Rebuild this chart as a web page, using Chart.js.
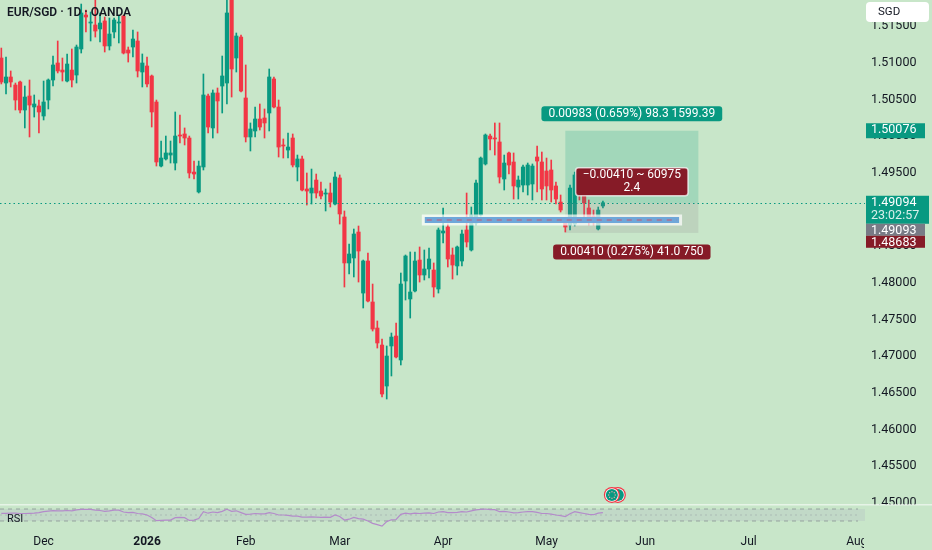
<!DOCTYPE html>
<html lang="en">
<head>
<meta charset="UTF-8">
<title>EUR/SGD · 1D · OANDA</title>
<script src="https://cdn.jsdelivr.net/npm/chart.js@4.4.1/dist/chart.umd.min.js"></script>
<style>
  html, body { margin: 0; padding: 0; background: #c8e6c9; }
  .wrap { position: relative; width: 932px; height: 550px; }
</style>
</head>
<body>
<div class="wrap"><canvas id="chart" width="932" height="550"></canvas></div>
<script>
// daily candles, 18 Nov 2025 .. 19 May 2026 (index 0 = first visible bar)
const opens = [
  1.51068, 1.50727, 1.50809, 1.50700, 1.50741, 1.50359, 1.50550, 1.50400, 1.50414, 1.50277,
  1.50495, 1.50768, 1.51000, 1.50904, 1.50754, 1.50904, 1.50836, 1.51191, 1.51654, 1.51545,
  1.51518, 1.51464, 1.51573, 1.51232, 1.51423, 1.51545, 1.51641, 1.51177, 1.51218, 1.51300,
  1.50877, 1.50959, 1.50823, 1.50468, 1.49595, 1.49691, 1.49745, 1.49636, 1.50018, 1.50032,
  1.49977, 1.49513, 1.49241, 1.49582, 1.50550, 1.50114, 1.50591, 1.50686, 1.50727, 1.51900,
  1.51068, 1.51354, 1.50523, 1.49991, 1.50073, 1.50236, 1.50250, 1.50318, 1.50782, 1.50400,
  1.49882, 1.49813, 1.49977, 1.49582, 1.49691, 1.49282, 1.49227, 1.49404, 1.49254, 1.49213,
  1.49227, 1.49077, 1.49432, 1.48900, 1.48273, 1.48341, 1.48695, 1.47863, 1.48300, 1.47741,
  1.47386, 1.47154, 1.46595, 1.47141, 1.47277, 1.46950, 1.48027, 1.47782, 1.47891, 1.48313,
  1.48109, 1.48191, 1.48177, 1.47918, 1.48682, 1.48763, 1.48382, 1.48232, 1.48300, 1.48723,
  1.48450, 1.48818, 1.48927, 1.49623, 1.50004, 1.49977, 1.49923, 1.49418, 1.49773, 1.49650,
  1.49309, 1.49336, 1.49336, 1.49350, 1.49718, 1.49650, 1.49527, 1.49541, 1.49323, 1.49104,
  1.48818, 1.48791, 1.48804, 1.49432, 1.49282, 1.49023, 1.48913, 1.48736, 1.49050
];
const highs = [
  1.51204, 1.51082, 1.50891, 1.50727, 1.50754, 1.50686, 1.50768, 1.50564, 1.50495, 1.50754,
  1.50782, 1.51095, 1.51300, 1.51068, 1.51123, 1.51191, 1.51245, 1.51804, 1.51723, 1.51695,
  1.51886, 1.51682, 1.51627, 1.51614, 1.51614, 1.51654, 1.51654, 1.51218, 1.51450, 1.51423,
  1.51123, 1.51082, 1.50836, 1.50495, 1.49936, 1.50004, 1.49936, 1.50332, 1.50291, 1.50114,
  1.50004, 1.49663, 1.49663, 1.50850, 1.50577, 1.50632, 1.50659, 1.51095, 1.51900, 1.51995,
  1.51409, 1.51382, 1.50973, 1.50182, 1.50400, 1.50441, 1.50373, 1.50918, 1.50809, 1.50495,
  1.49964, 1.50045, 1.50032, 1.49745, 1.49732, 1.49500, 1.49554, 1.49486, 1.49377, 1.49282,
  1.49363, 1.49513, 1.49473, 1.48982, 1.48532, 1.48736, 1.48777, 1.48313, 1.48409, 1.47986,
  1.47482, 1.47236, 1.47141, 1.47318, 1.47454, 1.48136, 1.48382, 1.48423, 1.48423, 1.48491,
  1.48450, 1.48477, 1.48273, 1.48750, 1.49023, 1.48804, 1.48477, 1.48504, 1.48723, 1.49227,
  1.49036, 1.49404, 1.49718, 1.50032, 1.50032, 1.50182, 1.50182, 1.49745, 1.49786, 1.49773,
  1.49459, 1.49609, 1.49636, 1.49623, 1.49868, 1.49786, 1.49704, 1.49677, 1.49377, 1.49200,
  1.48886, 1.49336, 1.49513, 1.49500, 1.49363, 1.49132, 1.48995, 1.49036, 1.49118
];
const lows = [
  1.50714, 1.50577, 1.50673, 1.50359, 1.50318, 1.50114, 1.49991, 1.50263, 1.50045, 1.50223,
  1.50373, 1.50686, 1.50864, 1.50754, 1.50741, 1.50673, 1.50727, 1.51136, 1.51423, 1.51300,
  1.51354, 1.51286, 1.51150, 1.51177, 1.51341, 1.51273, 1.51123, 1.51013, 1.51082, 1.50809,
  1.50673, 1.50673, 1.50127, 1.49595, 1.49582, 1.49677, 1.49636, 1.49541, 1.49909, 1.49882,
  1.49432, 1.49418, 1.49227, 1.49541, 1.50045, 1.49977, 1.50045, 1.50318, 1.50441, 1.50536,
  1.50877, 1.50604, 1.49923, 1.49800, 1.49991, 1.50086, 1.49977, 1.50073, 1.50386, 1.49718,
  1.49704, 1.49704, 1.49582, 1.49391, 1.49254, 1.49063, 1.49077, 1.49159, 1.49145, 1.48982,
  1.49036, 1.49063, 1.48804, 1.47945, 1.48123, 1.48082, 1.48013, 1.47659, 1.47741, 1.47345,
  1.47113, 1.46445, 1.46418, 1.46732, 1.46977, 1.46882, 1.47768, 1.47522, 1.47877, 1.48013,
  1.48041, 1.48068, 1.47809, 1.47863, 1.48545, 1.48218, 1.48054, 1.48109, 1.48232, 1.48491,
  1.48436, 1.48791, 1.48913, 1.49609, 1.49813, 1.49745, 1.49363, 1.49268, 1.49486, 1.49145,
  1.49145, 1.49241, 1.49200, 1.49132, 1.49241, 1.49132, 1.49132, 1.49104, 1.49077, 1.48968,
  1.48695, 1.48723, 1.48777, 1.49132, 1.48886, 1.48791, 1.48791, 1.48723, 1.49023
];
const closes = [
  1.50741, 1.50809, 1.50741, 1.50495, 1.50359, 1.50536, 1.50427, 1.50441, 1.50332, 1.50468,
  1.50768, 1.50973, 1.50891, 1.50877, 1.50986, 1.50768, 1.51218, 1.51682, 1.51627, 1.51559,
  1.51436, 1.51545, 1.51232, 1.51395, 1.51586, 1.51559, 1.51136, 1.51136, 1.51327, 1.50891,
  1.51000, 1.50714, 1.50332, 1.49650, 1.49704, 1.49773, 1.49773, 1.50004, 1.50004, 1.49977,
  1.49500, 1.49486, 1.49595, 1.50564, 1.50127, 1.50591, 1.50482, 1.50823, 1.51682, 1.50918,
  1.51368, 1.50618, 1.49991, 1.50100, 1.50236, 1.50127, 1.50182, 1.50809, 1.50400, 1.49854,
  1.49868, 1.49854, 1.49609, 1.49691, 1.49268, 1.49254, 1.49295, 1.49227, 1.49186, 1.49227,
  1.49104, 1.49445, 1.48941, 1.48273, 1.48395, 1.48668, 1.48436, 1.48300, 1.47754, 1.47372,
  1.47182, 1.46486, 1.47004, 1.47263, 1.46991, 1.47986, 1.48368, 1.47877, 1.48300, 1.48109,
  1.48191, 1.48327, 1.47945, 1.48723, 1.48709, 1.48327, 1.48245, 1.48491, 1.48668, 1.48559,
  1.48927, 1.49363, 1.49704, 1.50018, 1.49964, 1.49964, 1.49445, 1.49636, 1.49609, 1.49323,
  1.49404, 1.49582, 1.49609, 1.49595, 1.49663, 1.49282, 1.49323, 1.49268, 1.49145, 1.48995,
  1.48763, 1.49295, 1.49473, 1.49268, 1.49091, 1.48873, 1.48859, 1.48995, 1.49094
];
const rsi = [
  55.7, 55.7, 56, 56, 55, 55, 55.5, 56, 58, 61,
  63, 64.5, 64, 64, 65, 64, 67, 69, 69, 68.5,
  66, 65, 62, 64, 66.5, 66, 60, 58, 59, 55,
  54, 50, 42, 31, 32, 33, 33, 41, 42, 41,
  32, 33, 38, 61, 56, 60, 58, 62, 69, 62,
  64, 58, 52, 53, 55, 54, 54, 58, 55, 50,
  50, 49, 46, 46, 43, 43, 44, 43, 42, 43,
  42, 50, 45, 33, 36, 42, 38, 36, 30, 22,
  18, 13, 28, 34, 35, 52, 56, 54, 56, 55,
  56, 57, 55, 60, 61, 58, 58, 59, 61, 60,
  64, 67, 69, 70, 68, 68, 61, 62, 60, 57,
  58, 60, 61, 61, 59, 55, 55, 53, 50, 48,
  45, 54, 61, 58, 55, 52, 51, 56, 58
];

// axis ticks
const monthTickIdx = [9, 31, 52, 72, 94, 116, 137, 159, 182];
const monthTickLabels = ['Dec', '2026', 'Feb', 'Mar', 'Apr', 'May', 'Jun', 'Jul', 'Aug'];
const priceTicks = [1.450, 1.455, 1.460, 1.465, 1.470, 1.475, 1.480, 1.485, 1.490, 1.495, 1.500, 1.505, 1.510, 1.515];
const rsiLevels = [70, 50, 30];
const rsiPaneTop = 84;

// drawings on the chart
const lastPrice = 1.49094;
const countdown = '23:02:57';
const entryPrice = 1.49093, targetPrice = 1.50076, stopPrice = 1.48683;
const positionRange = [120, 148.3];
const targetText = '0.00983 (0.659%) 98.3 1599.39';
const riskText = ['\u22120.00410 ~ 60975', '2.4'];
const stopText = '0.00410 (0.275%) 41.0 750';
const bandRange = [90.1, 144.2];
const bandPrices = [1.48818, 1.48900];
const eventIdx = 129.9, eventPrice = 1.4511;

const UP = '#089981', DOWN = '#f23645', BG = '#c8e6c9', TXT = '#131722';
const FONT = 'Roboto, "Open Sans", sans-serif';
const candleColors = opens.map((o, i) => closes[i] >= o ? UP : DOWN);

function chip(ctx, cx, cy, lines, fill, border) {
  ctx.font = '12px ' + FONT;
  const w = Math.max(...lines.map(t => ctx.measureText(t).width)) + 14;
  const h = lines.length * 13 + 2;
  ctx.beginPath();
  ctx.roundRect(cx - w / 2, cy - h / 2, w, h, 3);
  ctx.fillStyle = fill;
  ctx.fill();
  if (border) { ctx.strokeStyle = border; ctx.lineWidth = 1.5; ctx.stroke(); }
  ctx.fillStyle = '#ffffff';
  ctx.textAlign = 'center';
  ctx.textBaseline = 'middle';
  lines.forEach((t, k) => ctx.fillText(t, cx, cy - h / 2 + 7.5 + k * 13));
}

function axisTag(ctx, yTop, h, fill, lines, right) {
  ctx.fillStyle = fill;
  ctx.fillRect(866, yTop, (right || 925) - 866, h);
  ctx.font = '12.5px ' + FONT;
  ctx.textAlign = 'left';
  ctx.textBaseline = 'middle';
  lines.forEach((t, k) => {
    ctx.fillStyle = k ? 'rgba(255,255,255,0.85)' : '#ffffff';
    ctx.fillText(t, 871, yTop + 7 + k * 13);
  });
}

const tvOverlay = {
  id: 'tvOverlay',
  beforeDatasetsDraw(chart) {
    const { ctx, chartArea: a, scales } = chart;
    const r = scales.yRsi;
    const y70 = r.getPixelForValue(rsiLevels[0]);
    const y50 = r.getPixelForValue(rsiLevels[1]);
    const y30 = r.getPixelForValue(rsiLevels[2]);
    ctx.save();
    ctx.fillStyle = 'rgba(126,87,194,0.09)';
    ctx.fillRect(a.left, y70, a.right - a.left, y30 - y70);
    ctx.lineWidth = 1;
    ctx.strokeStyle = 'rgba(120,123,134,0.6)';
    ctx.setLineDash([4, 4]);
    [y70, y30].forEach(v => {
      ctx.beginPath(); ctx.moveTo(a.left, v); ctx.lineTo(a.right - 7, v); ctx.stroke();
    });
    ctx.strokeStyle = 'rgba(120,123,134,0.3)';
    ctx.setLineDash([2, 3]);
    ctx.beginPath(); ctx.moveTo(a.left, y50); ctx.lineTo(a.right - 7, y50); ctx.stroke();
    ctx.restore();
  },
  afterDatasetsDraw(chart) {
    const { ctx, chartArea: a, scales: { x, y } } = chart;
    ctx.save();
    // long position zones
    const x0 = x.getPixelForValue(positionRange[0]), x1 = x.getPixelForValue(positionRange[1]);
    const yT = y.getPixelForValue(targetPrice), yE = y.getPixelForValue(entryPrice), yS = y.getPixelForValue(stopPrice);
    ctx.fillStyle = 'rgba(8,153,129,0.2)';
    ctx.fillRect(x0, yT, x1 - x0, yE - yT);
    ctx.fillStyle = 'rgba(140,130,140,0.18)';
    ctx.fillRect(x0, yE, x1 - x0, yS - yE);
    // horizontal zone band
    const bx0 = x.getPixelForValue(bandRange[0]), bx1 = x.getPixelForValue(bandRange[1]);
    const by0 = y.getPixelForValue(bandPrices[1]), by1 = y.getPixelForValue(bandPrices[0]);
    ctx.fillStyle = 'rgba(255,255,255,0.7)';
    ctx.fillRect(bx0 - 3, by0 - 2.5, bx1 - bx0 + 6, by1 - by0 + 5);
    ctx.fillStyle = '#6fa7d9';
    ctx.fillRect(bx0, by0, bx1 - bx0, by1 - by0);
    ctx.strokeStyle = 'rgba(242,54,69,0.75)';
    ctx.lineWidth = 1;
    ctx.setLineDash([5, 5]);
    ctx.beginPath(); ctx.moveTo(bx0 + 2, (by0 + by1) / 2); ctx.lineTo(bx1 - 2, (by0 + by1) / 2); ctx.stroke();
    // last price line
    const yL = Math.round(y.getPixelForValue(lastPrice)) + 0.5;
    ctx.strokeStyle = UP;
    ctx.lineWidth = 1.2;
    ctx.setLineDash([1.5, 3]);
    ctx.beginPath(); ctx.moveTo(a.left, yL); ctx.lineTo(a.right, yL); ctx.stroke();
    ctx.restore();
  },
  afterDraw(chart) {
    const { ctx, chartArea: a, scales: { x, y, yRsi } } = chart;
    ctx.save();
    const sep = yRsi.getPixelForValue(rsiPaneTop);
    // price scale is cut at the indicator pane, month axis is cut at the price scale
    ctx.fillStyle = BG;
    ctx.fillRect(a.right, sep, chart.width - a.right, a.bottom - sep);
    ctx.fillRect(a.right - 1, a.bottom, chart.width - a.right + 1, chart.height - a.bottom);
    ctx.strokeStyle = 'rgba(255,255,255,0.55)';
    ctx.lineWidth = 1.5;
    ctx.beginPath(); ctx.moveTo(0, sep); ctx.lineTo(chart.width, sep); ctx.stroke();

    // position labels
    const cx = (x.getPixelForValue(positionRange[0]) + x.getPixelForValue(positionRange[1])) / 2;
    chip(ctx, cx, y.getPixelForValue(targetPrice) - 17, [targetText], UP);
    chip(ctx, cx, y.getPixelForValue(entryPrice) - 21, riskText, '#861b27', 'rgba(255,255,255,0.7)');
    chip(ctx, cx, y.getPixelForValue(stopPrice) + 19, [stopText], '#861b27');

    // price scale tags
    axisTag(ctx, y.getPixelForValue(targetPrice) - 7.5, 15, UP, [targetPrice.toFixed(5)]);
    const yLast = y.getPixelForValue(lastPrice) - 7;
    axisTag(ctx, yLast, 28, UP, [lastPrice.toFixed(5), countdown], 929);
    axisTag(ctx, yLast + 28, 12, '#787b86', [entryPrice.toFixed(5)]);
    axisTag(ctx, yLast + 40, 12, '#861b27', [stopPrice.toFixed(5)]);

    // currency button
    ctx.beginPath();
    ctx.roundRect(866, 2, 63, 20, 4);
    ctx.fillStyle = '#ffffff';
    ctx.fill();
    ctx.fillStyle = TXT;
    ctx.font = '11.5px ' + FONT;
    ctx.textAlign = 'left';
    ctx.textBaseline = 'middle';
    ctx.fillText('SGD', 878, 12.5);

    // title and pane label
    ctx.font = '600 12px ' + FONT;
    ctx.fillStyle = TXT;
    ctx.fillText('EUR/SGD \u00b7 1D \u00b7 OANDA', 7, 13);
    ctx.font = '11px ' + FONT;
    ctx.fillText('RSI', 7, 519);

    // economic event marker
    const ex = x.getPixelForValue(eventIdx), ey = y.getPixelForValue(eventPrice);
    [ex + 6, ex].forEach(cxm => {
      ctx.fillStyle = DOWN;
      ctx.beginPath(); ctx.arc(cxm, ey, 8, 0, Math.PI * 2); ctx.fill();
      ctx.fillStyle = '#ffffff';
      ctx.beginPath(); ctx.arc(cxm, ey, 6.8, 0, Math.PI * 2); ctx.fill();
      ctx.fillStyle = UP;
      ctx.beginPath(); ctx.arc(cxm, ey, 6, 0, Math.PI * 2); ctx.fill();
    });
    ctx.fillStyle = '#f0a8a8';
    for (let k = 0; k < 8; k++) {
      const t = k * Math.PI / 4;
      ctx.fillRect(ex + Math.cos(t) * 3.3 - 0.5, ey + Math.sin(t) * 3.3 - 0.5, 1.2, 1.2);
    }
    ctx.restore();
  }
};

new Chart(document.getElementById('chart'), {
  type: 'bar',
  data: {
    datasets: [
      {
        label: 'wicks',
        data: highs.map((h, i) => ({ x: i, y: [lows[i], h] })),
        backgroundColor: candleColors,
        barThickness: 1,
        grouped: false,
        order: 2
      },
      {
        label: 'bodies',
        data: opens.map((o, i) => ({ x: i, y: [o, closes[i]] })),
        backgroundColor: candleColors,
        barThickness: 3.5,
        minBarLength: 1,
        grouped: false,
        order: 1
      },
      {
        type: 'line',
        label: 'RSI',
        yAxisID: 'yRsi',
        data: rsi.map((v, i) => ({ x: i, y: v })),
        borderColor: '#b48bca',
        borderWidth: 1.2,
        pointRadius: 0,
        tension: 0,
        order: 0
      }
    ]
  },
  options: {
    responsive: false,
    animation: false,
    layout: { padding: 0 },
    plugins: { legend: { display: false }, tooltip: { enabled: false } },
    scales: {
      x: {
        type: 'linear',
        min: -0.28,
        max: 183.76,
        offset: false,
        grid: { display: false, drawTicks: false },
        border: { display: false },
        afterBuildTicks: s => { s.ticks = monthTickIdx.map(v => ({ value: v })); },
        afterFit: s => { s.height = 22; s.paddingLeft = 0; s.paddingRight = 0; },
        ticks: {
          autoSkip: false,
          maxRotation: 0,
          padding: 7,
          color: TXT,
          font: c => ({ family: FONT, size: 12, weight: c.tick && c.tick.value === 31 ? 'bold' : 'normal' }),
          callback: (v, i) => monthTickLabels[i]
        }
      },
      y: {
        position: 'right',
        min: 1.44659,
        max: 1.51859,
        grid: { display: false, drawTicks: false },
        border: { display: false },
        afterBuildTicks: s => { s.ticks = priceTicks.map(v => ({ value: v })); },
        afterFit: s => { s.width = 67; s.paddingTop = 0; s.paddingBottom = 0; },
        ticks: {
          padding: 6,
          color: TXT,
          font: { family: FONT, size: 12.5 },
          callback: v => v.toFixed(5)
        }
      },
      yRsi: {
        display: false,
        min: 6.67,
        max: 1766.67
      }
    }
  },
  plugins: [tvOverlay]
});
</script>
</body>
</html>
